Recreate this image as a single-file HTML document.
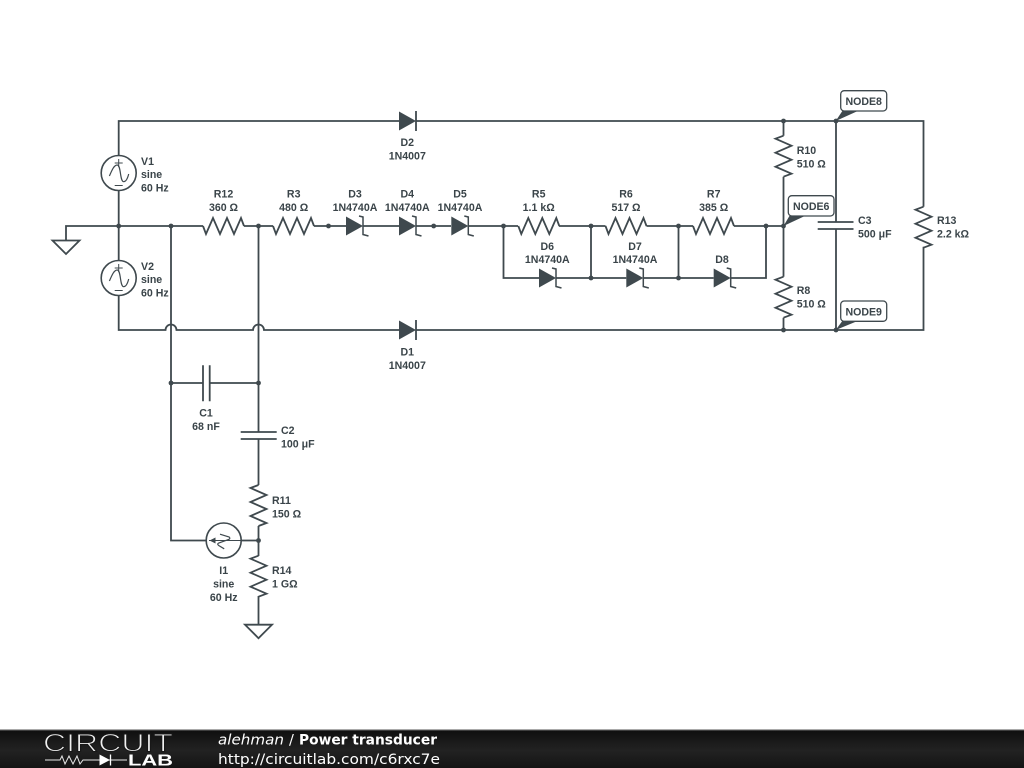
<!DOCTYPE html>
<html><head><meta charset="utf-8"><style>
html,body{margin:0;padding:0;background:#fff;width:1024px;height:768px;overflow:hidden}
svg{display:block}
.d{filter:blur(0.35px)}
.w{fill:none;stroke:#3f494e;stroke-width:1.8;stroke-linejoin:miter}
.t{font:bold 10.6px "Liberation Sans",sans-serif;fill:#3a4449}
.m{text-anchor:middle}
.n{fill:#3f494e}
.f{font-family:"DejaVu Sans",sans-serif;font-size:14.5px;fill:#fff}
</style></head><body>
<svg width="1024" height="768" viewBox="0 0 1024 768" xmlns="http://www.w3.org/2000/svg">
<defs>
<linearGradient id="bg" x1="0" y1="0" x2="0" y2="1"><stop offset="0" stop-color="#0e0e0e"/><stop offset="0.55" stop-color="#222"/><stop offset="1" stop-color="#141414"/></linearGradient>
<path id="r" class="w" d="M0 0L3 8L10 -8L17 8L24 -8L31 8L38 -8L41 0"/>
<g id="z"><path class="n" d="M0 -9.5L17 0L0 9.5Z"/><path d="M13 -10L17 -9V8.5L22.5 10" fill="none" stroke="#3f494e" stroke-width="1.5"/></g>
<g id="d"><path class="n" d="M0 -9.5L17 0L0 9.5Z"/><path d="M17 -10V10" fill="none" stroke="#3f494e" stroke-width="1.8"/></g>
<g id="v"><circle r="17.5" fill="#fff" stroke="#3f494e" stroke-width="1.6"/><path d="M-4 -10H4M0 -14V-6M-4 12.5H4" fill="none" stroke="#3f494e" stroke-width="1"/><path d="M-9.3 3C-6.5 -3.5 -4.5 -8 -1.5 -8C2.5 -8 1 8.7 5 8.7C7.5 8.7 9 5 10 1" fill="none" stroke="#3f494e" stroke-width="1.2"/></g>
<path id="g" class="w" d="M-13.5 0H13.5L0 13.5Z"/>
</defs>

<g class="d">
<!-- wires -->
<path class="w" d="M118.7 156V121H399M416 121H923.5V206.7M923.5 246.7V330H416M399 330H264A5.5 5.5 0 0 0 253 330H176.5A5.5 5.5 0 0 0 165.5 330H118.7V296"/>
<path class="w" d="M118.7 190V261M66 240V226H203M244 226H273M314 226H346M363 226H399M416 226H451M468 226H518M559 226H605.5M646.5 226H693M734 226H783.5M503.5 226V278H539M556 278H626.3M643 278H713.7M731 278H766V226M591 226V278M678.5 226V278"/>
<path class="w" d="M171 226V540.5H206M241 540.5H258.5M258.5 226V432M258.5 439V485M258.5 526V556M258.5 596V625M171 383H203M209.7 383H258.5"/>
<path class="w" d="M783.5 121V135.7M783.5 176.7V276.7M783.5 317.7V330M836 121V222M836 229V330"/>

<!-- resistors -->
<use href="#r" x="203" y="226"/><use href="#r" x="273" y="226"/><use href="#r" x="518.3" y="226"/><use href="#r" x="605.5" y="226"/><use href="#r" x="693" y="226"/>
<use href="#r" transform="translate(783.5 135.7) rotate(90)"/><use href="#r" transform="translate(783.5 276.7) rotate(90)"/><use href="#r" transform="translate(923.5 206.7) rotate(90)"/><use href="#r" transform="translate(258.5 485) rotate(90)"/><use href="#r" transform="translate(258.5 555.7) rotate(90)"/>

<!-- diodes -->
<use href="#d" x="399" y="121"/><use href="#d" x="399" y="330"/>
<use href="#z" x="346" y="226"/><use href="#z" x="399" y="226"/><use href="#z" x="451.3" y="226"/><use href="#z" x="539" y="278"/><use href="#z" x="626.3" y="278"/><use href="#z" x="713.7" y="278"/>

<!-- capacitors -->
<path class="w" d="M203 365.3V401.3M209.7 365.3V401.3M240.7 432H276.7M240.7 439H276.7M817.7 222H853.5M817.7 229H853.5"/>

<!-- sources -->
<use href="#v" x="118.7" y="173"/><use href="#v" x="118.7" y="278"/>
<circle cx="223.7" cy="540.5" r="17.5" fill="#fff" stroke="#3f494e" stroke-width="1.6"/>
<path d="M209 540.5H241" fill="none" stroke="#3f494e" stroke-width="1"/>
<path d="M220 534.2L229.2 537Q230.7 538.5 228.7 539.5L218.7 543Q216.7 544 218.7 545.5L224.2 548.8" fill="none" stroke="#3f494e" stroke-width="1.2"/>
<path class="n" d="M209.5 540.5L215.5 537.5V543.5Z"/>

<!-- grounds -->
<use href="#g" x="66" y="240.5"/><use href="#g" x="258.5" y="624.7"/>

<!-- dots -->
<g class="n">
<circle cx="118.7" cy="226" r="2.4"/><circle cx="171" cy="226" r="2.4"/><circle cx="258.5" cy="226" r="2.4"/><circle cx="328.5" cy="226" r="2.4"/><circle cx="433.7" cy="226" r="2.4"/><circle cx="503.5" cy="226" r="2.4"/><circle cx="591" cy="226" r="2.4"/><circle cx="678.5" cy="226" r="2.4"/><circle cx="766" cy="226" r="2.4"/><circle cx="783.5" cy="226" r="2.4"/><circle cx="591" cy="278" r="2.4"/><circle cx="678.5" cy="278" r="2.4"/><circle cx="783.5" cy="121" r="2.4"/><circle cx="836" cy="121" r="2.4"/><circle cx="783.5" cy="330" r="2.4"/><circle cx="836" cy="330" r="2.4"/><circle cx="171" cy="383" r="2.4"/><circle cx="258.5" cy="383" r="2.4"/><circle cx="258.5" cy="540.5" r="2.4"/>
</g>

<!-- node flags -->
<path class="n" d="M835.7 121L843 110H860Z"/><path class="n" d="M783.5 226L790 215H807Z"/><path class="n" d="M835.7 330L843 320H860Z"/>
<g fill="#fff" stroke="#3f494e" stroke-width="1.3">
<rect x="840.7" y="90.7" width="46" height="20.3" rx="3.5"/><rect x="788.3" y="195.7" width="45.7" height="20.3" rx="3.5"/><rect x="840.7" y="301" width="46" height="20.3" rx="3.5"/>
</g>
<text class="t m" x="863.7" y="105">NODE8</text><text class="t m" x="811.2" y="210">NODE6</text><text class="t m" x="863.7" y="315.3">NODE9</text>

<!-- labels -->
<text class="t" x="141" y="165">V1</text><text class="t" x="141" y="178">sine</text><text class="t" x="141" y="191.5">60 Hz</text>
<text class="t" x="141" y="270">V2</text><text class="t" x="141" y="283">sine</text><text class="t" x="141" y="296.5">60 Hz</text>
<text class="t m" x="223.5" y="197.5">R12</text><text class="t m" x="223.5" y="211">360 Ω</text>
<text class="t m" x="293.7" y="197.5">R3</text><text class="t m" x="293.7" y="211">480 Ω</text>
<text class="t m" x="355" y="197.5">D3</text><text class="t m" x="355" y="211">1N4740A</text>
<text class="t m" x="407.3" y="197.5">D4</text><text class="t m" x="407.3" y="211">1N4740A</text>
<text class="t m" x="460" y="197.5">D5</text><text class="t m" x="460" y="211">1N4740A</text>
<text class="t m" x="538.7" y="197.5">R5</text><text class="t m" x="538.7" y="211">1.1 kΩ</text>
<text class="t m" x="626" y="197.5">R6</text><text class="t m" x="626" y="211">517 Ω</text>
<text class="t m" x="713.7" y="197.5">R7</text><text class="t m" x="713.7" y="211">385 Ω</text>
<text class="t m" x="547.3" y="250">D6</text><text class="t m" x="547.3" y="263">1N4740A</text>
<text class="t m" x="635" y="250">D7</text><text class="t m" x="635" y="263">1N4740A</text>
<text class="t m" x="722" y="263">D8</text>
<text class="t m" x="407.3" y="146">D2</text><text class="t m" x="407.3" y="159.5">1N4007</text>
<text class="t m" x="407.3" y="355.5">D1</text><text class="t m" x="407.3" y="369">1N4007</text>
<text class="t" x="796.7" y="154">R10</text><text class="t" x="796.7" y="167.5">510 Ω</text>
<text class="t" x="796.7" y="294">R8</text><text class="t" x="796.7" y="307.5">510 Ω</text>
<text class="t" x="858" y="224">C3</text><text class="t" x="858" y="237.5">500 μF</text>
<text class="t" x="937" y="224">R13</text><text class="t" x="937" y="237.5">2.2 kΩ</text>
<text class="t m" x="206" y="416.5">C1</text><text class="t m" x="206" y="430">68 nF</text>
<text class="t" x="281" y="434">C2</text><text class="t" x="281" y="447.5">100 μF</text>
<text class="t" x="272" y="504">R11</text><text class="t" x="272" y="517.5">150 Ω</text>
<text class="t" x="272" y="574">R14</text><text class="t" x="272" y="587.5">1 GΩ</text>
<text class="t m" x="223.7" y="574">I1</text><text class="t m" x="223.7" y="587.5">sine</text><text class="t m" x="223.7" y="601">60 Hz</text>
</g>

<!-- footer -->
<rect x="0" y="729" width="1024" height="39" fill="url(#bg)"/>
<rect x="0" y="729" width="1024" height="1.3" fill="#aaa"/>
<text x="43" y="751.5" font-family="Liberation Sans,sans-serif" font-size="25" textLength="130" lengthAdjust="spacingAndGlyphs" fill="#f0f0f0" stroke="#181818" stroke-width="1">CIRCUIT</text>
<path d="M45 760H60L62 756L65 764L69 756L73 764L77 756L80 764L83 760H127" fill="none" stroke="#e8e8e8" stroke-width="1"/>
<path d="M99.5 754.5L110 760L99.5 765.5Z" fill="#fff"/><path d="M110.5 754.5V765.5" stroke="#fff" stroke-width="1.3"/>
<text x="128" y="765.7" font-family="Liberation Sans,sans-serif" font-weight="bold" font-size="15.5" textLength="45" lengthAdjust="spacingAndGlyphs" fill="#fff">LAB</text>
<text class="f" x="218" y="744.5" textLength="66" lengthAdjust="spacingAndGlyphs" font-style="italic">alehman</text>
<text class="f" x="289" y="744.5">/</text>
<text class="f" x="299" y="744.5" textLength="138" lengthAdjust="spacingAndGlyphs" font-weight="bold">Power transducer</text>
<text class="f" x="218" y="764" textLength="222" lengthAdjust="spacingAndGlyphs">http://circuitlab.com/c6rxc7e</text>
</svg>
</body></html>
